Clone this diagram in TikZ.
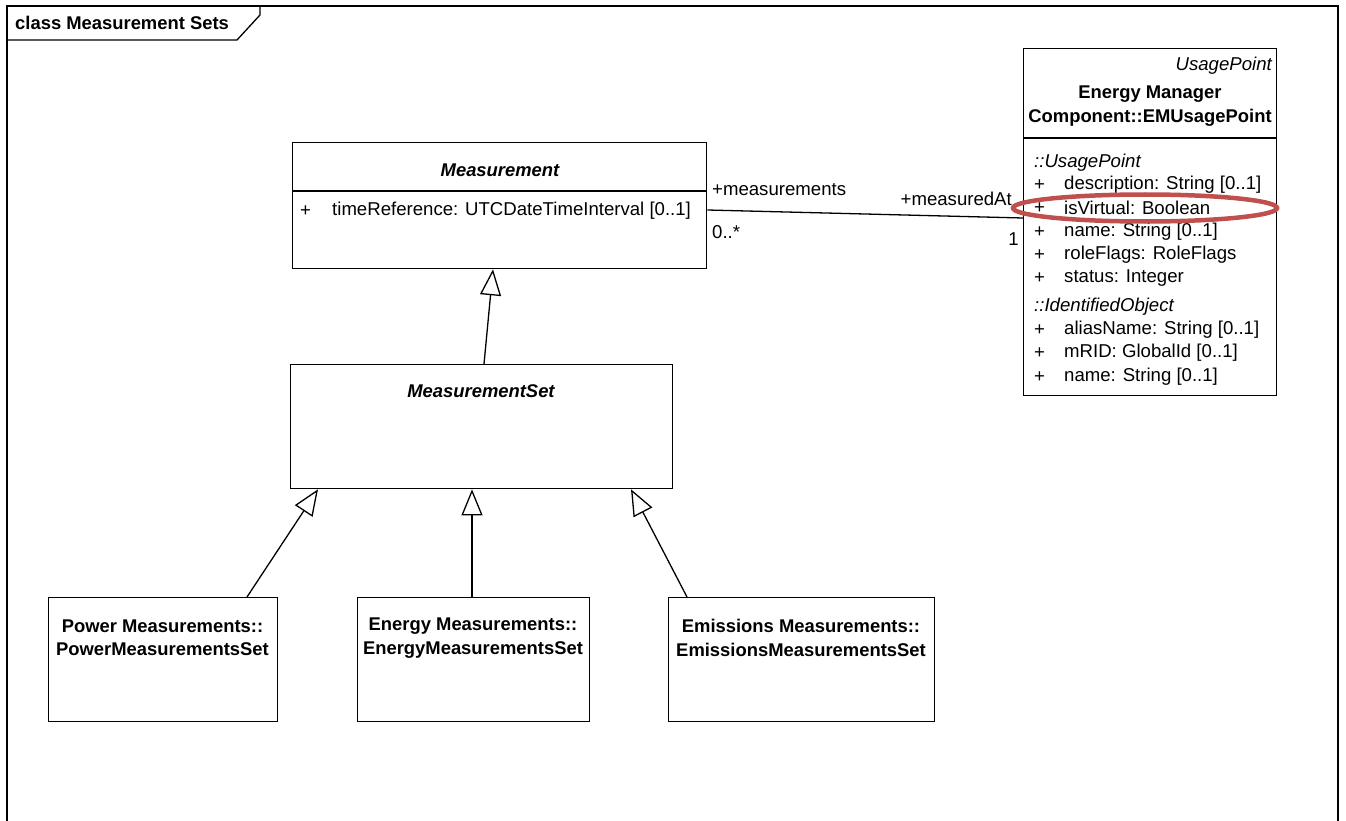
\documentclass[tikz,border=0pt]{standalone}
\usepackage{fontspec}
\setmainfont{Liberation Sans}
\usetikzlibrary{arrows.meta,calc,shapes.geometric}
\definecolor{hl}{RGB}{192,80,77}
\begin{document}
\begin{tikzpicture}[x=1pt,y=-1pt,
  box/.style={draw, line width=1.3pt, anchor=north west, inner sep=0pt},
  txt/.style={inner sep=0pt, font=\fontsize{18.6}{22}\selectfont},
  btxt/.style={txt, font=\fontsize{18.4}{23.5}\selectfont\bfseries, align=center},
  bitxt/.style={txt, font=\fontsize{18.4}{23}\selectfont\bfseries\itshape},
  itxt/.style={txt, font=\fontsize{18.6}{22}\selectfont\itshape},
  gen/.style={line width=1.3pt, -{Triangle[open, length=26pt, width=21pt, line width=1.3pt, fill=white]}},
  assoc/.style={line width=1.3pt},
  frm/.style={line width=1.3pt}
]
\useasboundingbox (0,0) rectangle (1346,821);
% frame
\draw[frm] (7,821) -- (7,6) -- (1338,6) -- (1338,821);
\draw[frm] (7,40) -- (237,40) -- (260,15) -- (260,6);
\node[btxt, anchor=west] (frametitle) at (15,23) {class Measurement Sets};

% Measurement
\node[box, minimum width=414, minimum height=126] (meas) at (292,142) {};
\draw[line width=1.3pt] ($(meas.north west)+(0,49)$) -- ($(meas.north east)+(0,49)$);
\node[bitxt] (meastitle) at (500,170) {Measurement};
\node[txt, anchor=west] (measp) at (300,211) {+};
\node[txt, anchor=west] (measa) at (332,211) {timeReference: UTCDateTimeInterval [0..1]};

% MeasurementSet
\node[box, minimum width=382, minimum height=124] (mset) at (290,364) {};
\node[bitxt] (msettitle) at (481,391) {MeasurementSet};

% Children
\node[box, minimum width=229, minimum height=124] (pw) at (48,597) {};
\node[btxt] (pwtitle) at (162.5,638) {Power Measurements::\\PowerMeasurementsSet};
\node[box, minimum width=232, minimum height=124] (en) at (357,597) {};
\node[btxt] (entitle) at (473,638) {Energy Measurements::\\EnergyMeasurementsSet};
\node[box, minimum width=266, minimum height=124] (em) at (668,597) {};
\node[btxt] (emtitle) at (801,638) {Emissions Measurements::\\EmissionsMeasurementsSet};

% EMUsagePoint
\node[box, minimum width=253, minimum height=347] (emu) at (1023,48) {};
\draw[line width=1.3pt] ($(emu.north west)+(0,90)$) -- ($(emu.north east)+(0,90)$);
\node[itxt, anchor=east] (emust) at (1272,66) {UsagePoint};
\node[btxt] (emutitle) at (1150,106) {Energy Manager\\Component::EMUsagePoint};
\node[itxt, anchor=west] (g1) at (1034,163) {::UsagePoint};
\node[itxt, anchor=west] (g2) at (1034,307) {::IdentifiedObject};
\foreach \y/\t [count=\i] in {185/{description: String [0..1]},
  208/{isVirtual: Boolean}, 232/{name: String [0..1]},
  255/{roleFlags: RoleFlags}, 278/{status: Integer},
  330/{aliasName: String [0..1]}, 353/{mRID: GlobalId [0..1]},
  377/{name: String [0..1]}}{
  \node[txt, anchor=west] (p\i) at (1034,\y) {+};
  \node[txt, anchor=west] (a\i) at (1064,\y) {\t};
}
\node[draw=hl, line width=4.5pt, ellipse, minimum width=264, minimum height=27, inner sep=0pt] (mark) at (1145,208) {};

% association
\draw[assoc] ($(meas.north east)+(0,68)$) -- ($(emu.north west)+(0,170)$);
\node[txt, anchor=west] (l1) at (712,190) {+measurements};
\node[txt, anchor=west] (l2) at (712,232) {0..*};
\node[txt, anchor=east] (l3) at (1012,199) {+measuredAt};
\node[txt, anchor=east] (l4) at (1019,239) {1};

% generalizations
\draw[gen] ($(mset.north west)+(194,0)$) -- ($(meas.south west)+(201,0)$);
\draw[gen] ($(pw.north west)+(199,0)$) -- ($(mset.south west)+(28,0)$);
\draw[gen] ($(en.north west)+(115,0)$) -- ($(mset.south west)+(182,0)$);
\draw[gen] ($(em.north west)+(19,0)$) -- ($(mset.south west)+(341,0)$);
\end{tikzpicture}
\end{document}
